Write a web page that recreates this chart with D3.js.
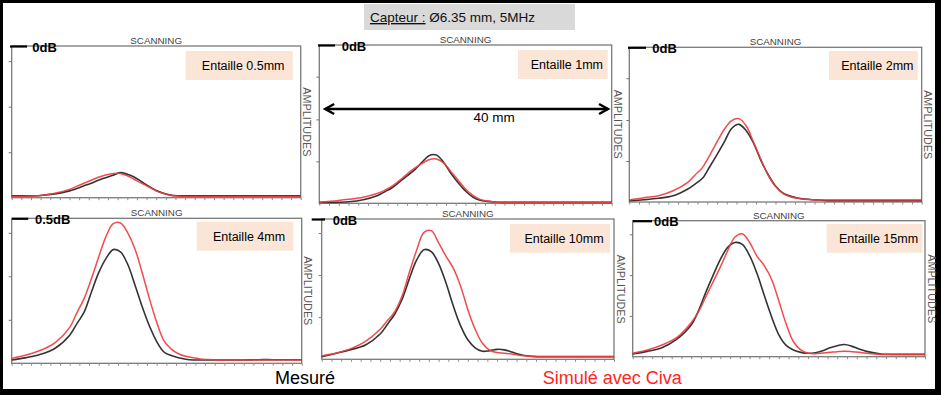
<!DOCTYPE html>
<html><head><meta charset="utf-8">
<script src="https://cdn.jsdelivr.net/npm/d3@7"></script>
<style>html,body{margin:0;padding:0;background:#000;} svg{display:block}</style>
</head><body><svg id="c" width="941" height="395"></svg>
<script>
// ---------- DATA ----------
const titleParts = ["Capteur :", " Ø6.35 mm, 5MHz"];
const notchLabels = ["Entaille 0.5mm","Entaille 1mm","Entaille 2mm","Entaille 4mm","Entaille 10mm","Entaille 15mm"];
const gainLabels = ["0dB","0dB","0dB","0.5dB","0dB","0dB"];
const axisTop = "SCANNING";
const axisSide = "AMPLITUDES";
const legendLabels = ["Mesuré","Simulé avec Civa"];
const spanLabel = "40 mm";
const spanMM = [0.8, 39.5];
// scanning position (mm)
const scanMM = [0,2,4,6,8,9,10,11,12,13,14,15,16,17,18,19,20,21,22,23,24,25,26,27,28,29,30,31,32,34,36,38,40];
// amplitudes (% of screen height)
const mes05 = [1.2,1.2,1.5,2.5,4.5, 6,7.8,9.5,11.5,13.2,14.8,16.5,15.5,13.5,10.5, 7.5,4.8,3,1.8,1.3,1.2, 1.2,1.2,1.2,1.2,1.2,1.2,1.2,1.2, 1.2,1.2,1.2,1.2];
const sim05 = [0.8,1,1.5,3,5.5, 7.5,9.5,11.5,13.5,15,15.8,16,14.5,12,9.5, 7,4.5,2.8,1.5,1,0.8, 0.8,0.8,0.8,0.8,0.8,0.8,0.8,0.8, 0.8,0.8,0.8,0.8];
const mes1 = [0.6,0.6,1,2.3,5, 7.4,10,13.7,17.3,21,25.7,30.1,30.5,26,19, 13,7.8,4,1.9,1.2,0.8, 0.6,0.6,0.6,0.6,0.6,0.6,0.6,0.6, 0.6,0.6,0.6,0.6];
const sim1 = [0.6,1.5,2.5,3.8,6.3, 8.4,11,14.5,18.5,22,25,27.5,28,25.5,20, 14.5,9,5,2.5,1.4,0.8, 0.6,0.6,0.6,0.6,0.6,0.6,0.6,0.6, 0.6,0.6,0.6,0.6];
const mes2 = [0.9,1.5,2.4,4,8.4, 11.6,15.3,22.8,30.6,38.8,47.5,50.2,46,38,26.9, 17.7,10.3,5.8,3.9,2.6,1.9, 1.5,1.3,0.9,0.9,0.9,0.9,0.9,0.9, 0.9,0.9,0.9,0.9];
const sim2 = [1.3,2.8,4.1,7.3,12.7, 17.5,22.2,30.2,38.8,47,52.6,53.9,49.1,38.6,27.6, 17.2,10.1,5.6,3.4,2.4,1.7, 1.5,1.3,1.3,1.3,1.3,1.3,1.3,1.3, 1.3,1.3,1.3,1.3];
const mes4 = [2.3,3.9,6.2,10.4,19.4, 27.4,35.4,49.2,62.5,72.2,78.4,76.8,68.3,54,39, 25.7,15,7.8,5.3,3.8,2.8, 2.3,2.3,2.3,2.3,2.3,2.3,2.3,2.3, 2.5,2.5,2.5,2.5];
const sim4 = [3.4,5.7,9,14.3,24.8, 35,44.8,58.4,73.3,87.4,96.3,96.8,90,78.9,62.5, 44.6,28.3,15.6,9.8,6.6,4.8, 3.9,3,2.6,2.3,2.3,2.3,2.3,2.3, 2.3,2.3,2.3,2.3];
const mes10 = [1.9,4.3,6.9,10.2,18, 25,32.3,42.8,57.5,70.8,78.1,76.7,68.2,54.6,38.2, 24,13.9,8.2,5.7,6.2,7.1, 6.7,5.2,3.6,2.5,2.1,1.9,1.9,1.9, 1.9,1.9,1.9,1.9];
const sim10 = [2.4,4.5,7.6,12.8,21.4, 27.6,34,45.1,62,77.9,90.5,91.7,83,73.6,65, 52.3,35.4,21.4,11.4,6.4,4.8, 4.3,3.8,2.9,2.4,1.9,1.9,1.9,1.9, 1.9,1.9,1.9,1.9];
const mes15 = [2,3.9,6.6,12.7,23.3, 33.8,47.3,59.8,71.6,80.4,84,82.6,74.3,61.3,45.1, 29.4,16,8.3,4.9,3.2,2.5, 2.9,4.4,6.6,8.1,9,7.6,5.6,3.9, 2,1.7,1.7,1.7];
const sim15 = [2.5,4.9,8.6,14,25, 33,44,55,66,78,88,90.4,84,74,67, 57,41,24,11,5,2.5, 2.2,2.7,3.2,3.7,4,3.7,3.2,2.5, 1.7,1.7,1.7,1.7];
const measuredSeries = [mes05, mes1, mes2, mes4, mes10, mes15];
const simulatedSeries = [sim05, sim1, sim2, sim4, sim10, sim15];
const ampTicksA = [30,60,90];
const ampTicksB = [26.5,53,80];

// ---------- LAYOUT ----------
const layout = [
  {l:11.7,t:46,r:300.7,b:197.7, lb:[185.7,51,292.7,80], dl:[10,27], dx:32.3, ticks:ampTicksA},
  {l:319.3,t:45,r:611.7,b:203.3, lb:[518,50,607.7,79], dl:[318,335], dx:341.7, ticks:ampTicksB},
  {l:629.3,t:47.3,r:921.7,b:202, lb:[829,51,917.7,80], dl:[628,646], dx:652.3, ticks:ampTicksB},
  {l:11.7,t:218.3,r:301.7,b:363.3, lb:[196.7,221.7,293.3,250.7], dl:[12,28.3], dx:35, ticks:ampTicksA},
  {l:321.7,t:219,r:614,b:359.3, lb:[510,224,610,252.7], dl:[311.7,325], dx:332.7, ticks:ampTicksA},
  {l:632.7,t:220.7,r:925,b:356.7, lb:[826.7,224,922.3,252.7], dl:[633,652], dx:654, ticks:ampTicksA}
];
const FONT = "'Liberation Sans', Arial, sans-serif";

const svg = d3.select("#c");
svg.append("rect").attr("width",941).attr("height",395).attr("fill","#000");
svg.append("rect").attr("x",3).attr("y",3).attr("width",932).attr("height",386).attr("fill","#fff");

// title
svg.append("rect").attr("x",364).attr("y",4).attr("width",211).attr("height",26).attr("fill","#d9d9d9");
const tt = svg.append("text").attr("x",370).attr("y",22).attr("font-family",FONT).attr("font-size",13.5).attr("fill","#111");
tt.append("tspan").attr("text-decoration","underline").text(titleParts[0]);
tt.append("tspan").text(titleParts[1]);

layout.forEach((p,i)=>{
  const x = d3.scaleLinear().domain([0,40]).range([p.l,p.r]);
  const y = d3.scaleLinear().domain([0,100]).range([p.b,p.t]);
  const g = svg.append("g");
  g.append("rect").attr("x",p.l).attr("y",p.t).attr("width",p.r-p.l).attr("height",p.b-p.t)
    .attr("fill","#fff").attr("stroke","#7a7a7a").attr("stroke-width",1.3);
  // scanning ticks
  const xa = d3.axisBottom(x).tickValues(d3.range(0,40.001,40/30)).tickSize(2.5).tickFormat("");
  const gx = g.append("g").attr("transform",`translate(0,${p.b})`).call(xa);
  gx.select(".domain").remove();
  gx.selectAll("line").attr("stroke","#8a8a8a");
  // amplitude ticks
  const ya = d3.axisLeft(y).tickValues(p.ticks).tickSize(3).tickFormat("");
  const gy = g.append("g").attr("transform",`translate(${p.l},0)`).call(ya);
  gy.select(".domain").remove();
  gy.selectAll("line").attr("stroke","#777");
  // top label
  g.append("text").attr("x",(p.l+p.r)/2).attr("y",p.t-2.2).attr("text-anchor","middle")
    .attr("font-family",FONT).attr("font-size",9.8).attr("fill","#444").text(axisTop);
  // side label
  g.append("text").attr("transform",`translate(${p.r+2.5},${(p.t+p.b)/2}) rotate(90)`)
    .attr("text-anchor","middle").attr("font-family",FONT).attr("font-size",10.8).attr("fill","#555").text(axisSide);
  // curves
  const line = d3.line().x((d,j)=>x(scanMM[j])).y(d=>y(d)).curve(d3.curveCatmullRom.alpha(0.5));
  g.append("path").datum(measuredSeries[i]).attr("d",line).attr("fill","none")
    .attr("stroke","#333").attr("stroke-width",1.6);
  g.append("path").datum(simulatedSeries[i]).attr("d",line).attr("fill","none")
    .attr("stroke","#f23c3c").attr("stroke-width",1.5).attr("opacity",0.92);
  // notch label
  const lb = p.lb;
  g.append("rect").attr("x",lb[0]).attr("y",lb[1]).attr("width",lb[2]-lb[0]).attr("height",lb[3]-lb[1]).attr("fill","#fbe5d6");
  g.append("text").attr("x",(lb[0]+lb[2])/2+4).attr("y",(lb[1]+lb[3])/2+4.5).attr("text-anchor","middle")
    .attr("font-family",FONT).attr("font-size",12.5).attr("fill","#000").text(notchLabels[i]);
  // gain marker
  g.append("line").attr("x1",p.dl[0]).attr("x2",p.dl[1]).attr("y1",p.t+0.5).attr("y2",p.t+0.5)
    .attr("stroke","#000").attr("stroke-width",2.2);
  g.append("text").attr("x",p.dx).attr("y",p.t+5.7).attr("font-family",FONT).attr("font-weight","bold")
    .attr("font-size",13).attr("fill","#000").text(gainLabels[i]);

  if(i===1){
    const ay = y(59.6);
    const x0 = x(spanMM[0]), x1 = x(spanMM[1]);
    g.append("line").attr("x1",x0).attr("x2",x1).attr("y1",ay).attr("y2",ay).attr("stroke","#000").attr("stroke-width",2.4);
    g.append("path").attr("d",`M${x0+9},${ay-5}L${x0},${ay}L${x0+9},${ay+5}`).attr("fill","none").attr("stroke","#000").attr("stroke-width",2.4);
    g.append("path").attr("d",`M${x1-9},${ay-5}L${x1},${ay}L${x1-9},${ay+5}`).attr("fill","none").attr("stroke","#000").attr("stroke-width",2.4);
    g.append("text").attr("x",x(23.9)).attr("y",ay+12.7).attr("text-anchor","middle")
      .attr("font-family",FONT).attr("font-size",13.5).attr("fill","#000").text(spanLabel);
  }
});

// legend
svg.append("text").attr("x",275).attr("y",384).attr("font-family",FONT).attr("font-size",18).attr("fill","#000").text(legendLabels[0]);
svg.append("text").attr("x",542.7).attr("y",384).attr("font-family",FONT).attr("font-size",18).attr("fill","#ff2424").text(legendLabels[1]);
</script></body></html>
